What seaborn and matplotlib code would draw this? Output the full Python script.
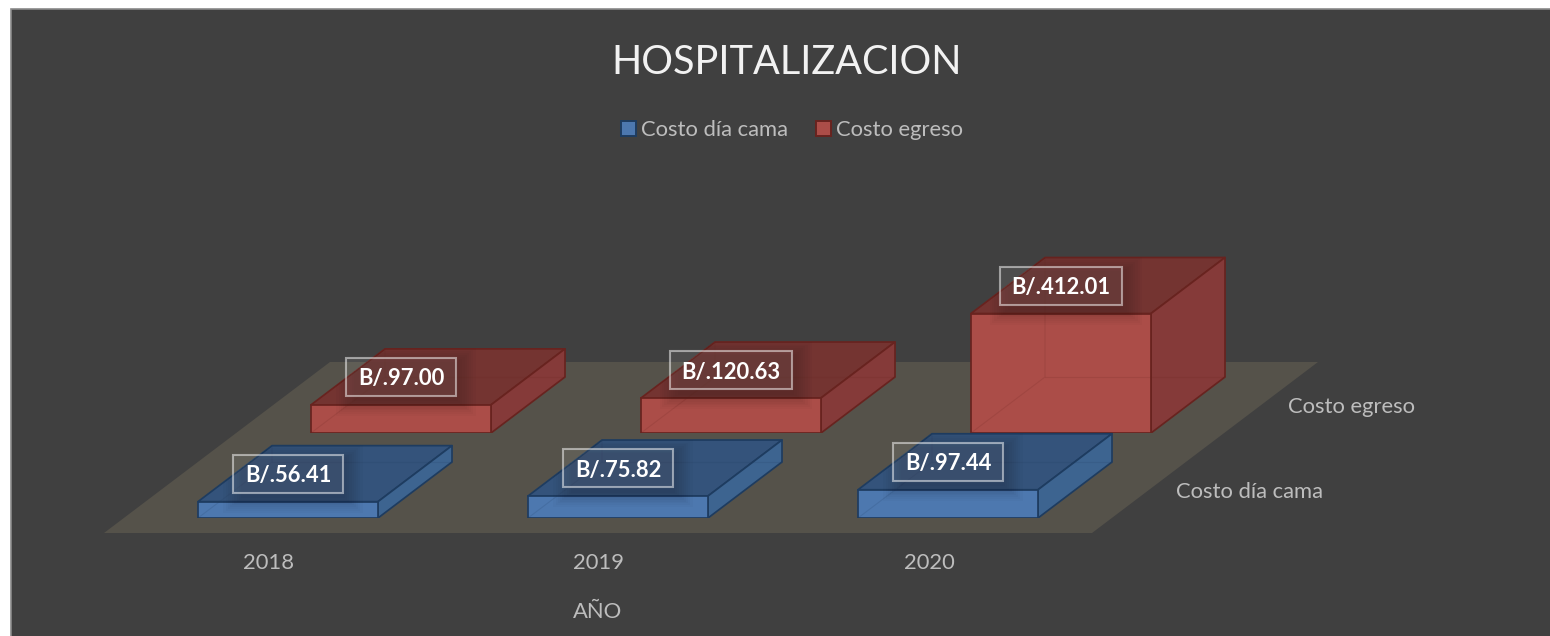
import matplotlib
matplotlib.use("Agg")
import matplotlib.pyplot as plt
from matplotlib.patches import Polygon, Rectangle, Patch
from matplotlib.transforms import ScaledTranslation
import pandas as pd
import seaborn as sns

years = ["2018", "2019", "2020"]
costo_dia_cama = [56.41, 75.82, 97.44]
costo_egreso = [97.00, 120.63, 412.01]
series_names = ["Costo día cama", "Costo egreso"]
title_text = "HOSPITALIZACION"
axis_title = "AÑO"

W, H = 1550, 636
PX_PER_CAT = 330.0
PX_PER_UNIT = 0.29
DEPTH_X, DEPTH_Y = 74.0, 56.0
BAR_PX = 180.0

sns.set_theme(style="dark")
plt.rcParams["font.family"] = ["Lato", "DejaVu Sans"]
GREY = "#bdbdbd"

fig = plt.figure(figsize=(W / 100, H / 100), dpi=100, facecolor="white")
renderer = fig.canvas.get_renderer()


def fig_xy(px, py):
    return (px / W, 1 - py / H)


# the panel runs off the right and bottom edges of the picture
panel = Rectangle(fig_xy(10.5, 646), (1560 - 10.5) / W, (646 - 8.5) / H, transform=fig.transFigure,
                  facecolor="#404040", edgecolor="#8a8a8a", linewidth=1.2, zorder=-3)
fig.add_artist(panel)
floor = Polygon([fig_xy(104, 533), fig_xy(1092, 533), fig_xy(1318, 362), fig_xy(330, 362)],
                transform=fig.transFigure, facecolor="#55524a", edgecolor="none", zorder=-2)
fig.add_artist(floor)


def make_axes(baseline_px, zorder):
    ax = fig.add_axes([0, 1 - baseline_px / H, 1, baseline_px / H], zorder=zorder)
    ax.patch.set_visible(False)
    sns.despine(ax=ax, left=True, bottom=True, right=True, top=True)
    return ax


def draw_series(ax, values, front, top, side, edge, center_px, baseline_px):
    df = pd.DataFrame({"year": years, "value": values})
    sns.barplot(data=df, x="year", y="value", ax=ax, color=front, saturation=1,
                width=BAR_PX / PX_PER_CAT, edgecolor=edge, linewidth=1.25, zorder=3, errorbar=None)
    ax.set_xlim(-center_px / PX_PER_CAT, (W - center_px) / PX_PER_CAT)
    ax.set_ylim(0, baseline_px / PX_PER_UNIT)
    ax.set_xlabel("")
    ax.set_ylabel("")
    ax.yaxis.set_visible(False)
    ax.grid(False)
    dx = DEPTH_X / PX_PER_CAT
    dy = DEPTH_Y / PX_PER_UNIT
    for bar, v in zip(list(ax.patches), values):
        x0, w, h = bar.get_x(), bar.get_width(), bar.get_height()
        x1 = x0 + w
        # faint hidden edges of the translucent box
        ax.plot([x0, x0 + dx, x0 + dx], [0, dy, dy + h], color=edge, lw=0.8, alpha=0.16, zorder=4)
        ax.plot([x0 + dx, x1 + dx], [dy, dy], color=edge, lw=0.8, alpha=0.16, zorder=4)
        ax.add_patch(Polygon([(x0, h), (x1, h), (x1 + dx, h + dy), (x0 + dx, h + dy)],
                             facecolor=top, edgecolor=edge, linewidth=1.25, zorder=2, joinstyle="round"))
        ax.add_patch(Polygon([(x1, 0), (x1 + dx, dy), (x1 + dx, h + dy), (x1, h)],
                             facecolor=side, edgecolor=edge, linewidth=1.25, zorder=2, joinstyle="round"))
        silhouette = Polygon([(x0, 0), (x1, 0), (x1 + dx, dy), (x1 + dx, h + dy), (x0 + dx, h + dy), (x0, h)],
                             transform=ax.transData)
        label = f"B/.{v:.2f}"
        cx = x0 + w / 2
        cy = h + 28 / PX_PER_UNIT
        txt = ax.text(cx, cy, label, ha="center", va="center_baseline", color="white",
                      fontsize=15.8, fontweight="bold", zorder=8, clip_on=False)
        tw = txt.get_window_extent(renderer).width
        bw = (tw + 23) / PX_PER_CAT
        bh = 38 / PX_PER_UNIT
        # soft shadow below the label box
        for k in range(9):
            gx = (15 - 2.2 * k) / PX_PER_CAT
            gy = (15 - 1.8 * k) / PX_PER_UNIT
            s = Rectangle((cx - bw / 2 - gx + 5 / PX_PER_CAT, cy - bh / 2 - gy - 5 / PX_PER_UNIT),
                          bw + 2 * gx, bh + 2 * gy, facecolor="black", alpha=0.02,
                          edgecolor="none", zorder=5)
            ax.add_patch(s)
            s.set_clip_path(silhouette)
        ax.add_patch(Rectangle((cx - bw / 2, cy - bh / 2), bw, bh, facecolor=(1, 1, 1, 0.07),
                               edgecolor=(1, 1, 1, 0.5), linewidth=1.5, zorder=7))


# Red series (further back)
ax_red = make_axes(433, 1)
draw_series(ax_red, costo_egreso, "#ab4d48", "#743431", "#853a39", "#68231f", 401, 433)
ax_red.tick_params(axis="x", length=0, labelbottom=False)
ax_red.text(1352 / W, 26 / 433, series_names[1], transform=ax_red.transAxes, ha="center", va="center",
            color=GREY, fontsize=15.8)

# Blue series (front)
ax_blue = make_axes(518, 2)
draw_series(ax_blue, costo_dia_cama, "#4d78af", "#34537b", "#3d6490", "#1e3c60", 288, 518)
ax_blue.tick_params(axis="x", length=0, pad=25.5, labelsize=15.8, labelcolor=GREY)
shift = ScaledTranslation(-19 / 100, 0, fig.dpi_scale_trans)
for t in ax_blue.get_xticklabels():
    t.set_transform(t.get_transform() + shift)
ax_blue.set_xlabel(axis_title, color=GREY, fontsize=15.8, x=598 / W, labelpad=20.5)
ax_blue.text(1250 / W, 26 / 518, series_names[0], transform=ax_blue.transAxes, ha="center", va="center",
             color=GREY, fontsize=15.8)

fig.text(787 / W, 1 - 62 / H, title_text, ha="center", va="center", color="#f2f2f2", fontsize=28.5)

handles = [Patch(facecolor="#4d78af", edgecolor="#1e3c60", linewidth=1.4, label=series_names[0]),
           Patch(facecolor="#ab4d48", edgecolor="#68231f", linewidth=1.4, label=series_names[1])]
leg = fig.legend(handles=handles, loc="center", bbox_to_anchor=(792 / W, 1 - 130 / H), ncol=2, frameon=False,
                 fontsize=15.8, handlelength=0.68, handleheight=0.68, handletextpad=0.2, columnspacing=1.3,
                 labelcolor=GREY)

fig.savefig("out.png", dpi=100, facecolor="white")
